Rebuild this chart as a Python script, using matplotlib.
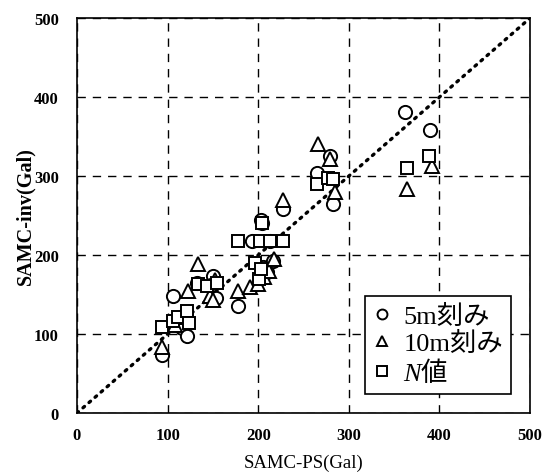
import matplotlib
matplotlib.use("Agg")
import matplotlib.pyplot as plt

plt.rcParams["mathtext.fontset"] = "custom"
plt.rcParams["mathtext.it"] = "Liberation Serif:italic"
plt.rcParams["mathtext.rm"] = "Liberation Serif"

# 5m刻み (circles)
c_x = [94, 106, 110, 112, 116, 121, 133, 150, 148, 153, 178, 203, 204, 205, 210, 216, 193, 213, 227, 265, 279, 283, 362, 390]
c_y = [73, 148, 120, 112, 108, 97, 165, 173, 162, 146, 136, 245, 240, 185, 178, 192, 218, 218, 258, 304, 325, 264, 381, 358]
# 10m刻み (triangles)
t_x = [94, 108, 115, 122, 134, 147, 150, 152, 178, 191, 200, 206, 212, 217, 227, 266, 279, 285, 364, 392]
t_y = [84, 112, 122, 155, 189, 148, 143, 168, 155, 160, 163, 172, 180, 195, 270, 340, 321, 280, 284, 313]
# N値 (squares)
s_x = [94, 106, 112, 121, 124, 134, 143, 155, 178, 197, 201, 203, 202, 204, 213, 227, 265, 277, 283, 364, 388]
s_y = [109, 116, 122, 129, 114, 163, 161, 165, 218, 190, 170, 182, 218, 240, 218, 218, 290, 297, 296, 310, 325]

ticks = [0, 100, 200, 300, 400, 500]
labels = ["5m刻み", "10m刻み", "$N$値"]

serif = ["Liberation Serif", "DejaVu Serif"]
jp = ["Liberation Serif", "Noto Sans CJK JP"]

fig = plt.figure(figsize=(5.42, 4.77), dpi=100)
ax = fig.add_axes([0.142, 0.132, 0.836, 0.828])

ax.plot([0, 500], [0, 500], linestyle=(0, (0.6, 1.8)), color="black", lw=2.4,
        dash_capstyle="round", zorder=2)

mk = dict(markerfacecolor="white", markeredgecolor="black", markeredgewidth=1.4,
          linestyle="none", zorder=3)
ax.plot(c_x, c_y, marker="o", markersize=9.5, label=labels[0], **mk)
ax.plot(t_x, t_y, marker="^", markersize=10, label=labels[1], **mk)
ax.plot(s_x, s_y, marker="s", markersize=9, label=labels[2], **mk)

ax.set_xlim(0, 500)
ax.set_ylim(0, 500)
ax.set_xticks(ticks)
ax.set_yticks(ticks)
ax.grid(True, color="black", linestyle=(0, (6, 5)), lw=1.0)
ax.set_axisbelow(True)
for s in ax.spines.values():
    s.set_linewidth(1.2)
ax.tick_params(length=0, labelsize=12)
ax.tick_params(axis="x", pad=10)
ax.tick_params(axis="y", pad=13)
for lab in ax.get_xticklabels() + ax.get_yticklabels():
    lab.set_fontfamily(serif)
    lab.set_fontweight("bold")

ax.set_xlabel("SAMC-PS(Gal)", fontsize=13.5, family=serif)
ax.xaxis.set_label_coords(0.5, -0.104)
ax.set_ylabel("SAMC-inv(Gal)", fontsize=14.5, family=serif, fontweight="bold")
ax.yaxis.set_label_coords(-0.092, 0.5)

leg = ax.legend(loc="upper left", bbox_to_anchor=(0.636, 0.296), frameon=True,
                fancybox=False, edgecolor="black", framealpha=1,
                prop={"family": jp, "size": 19}, handletextpad=0.45,
                borderpad=0.3, labelspacing=0.1, handlelength=0.7,
                markerscale=0.75, borderaxespad=0)
leg.get_frame().set_linewidth(1.2)
# the non-math part of "$N$値" is drawn in the text's own font
leg.get_texts()[2].set_fontfamily("Noto Sans CJK JP")

fig.savefig("out.png", dpi=100)
